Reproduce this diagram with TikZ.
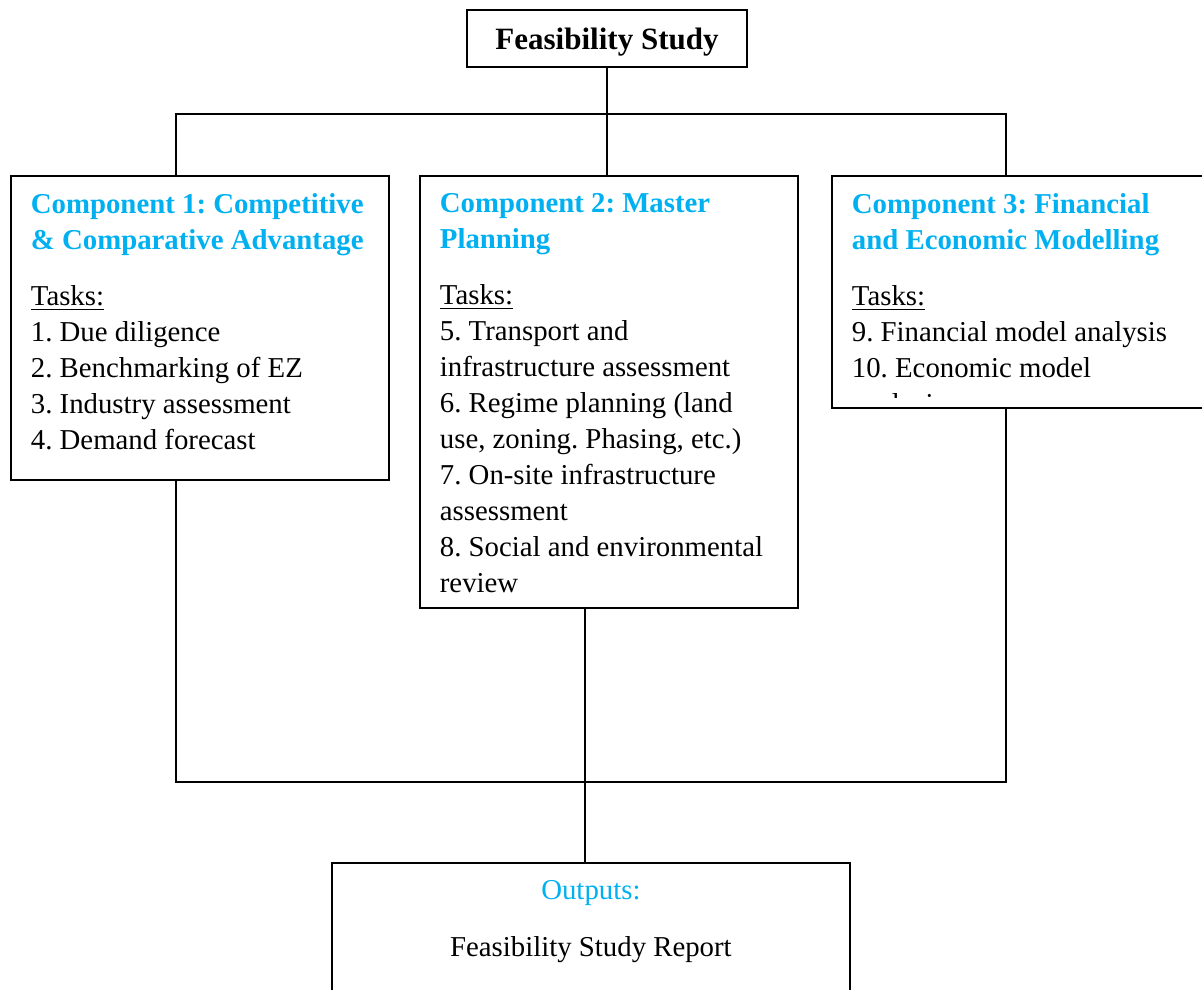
\documentclass[tikz,border=0pt]{standalone}
\usepackage{fontspec}
\setmainfont{Liberation Serif}
\usepackage{tikz}
\usetikzlibrary{positioning}
\definecolor{Cyan}{HTML}{00B0F0}
\newcommand{\taskfont}{\fontsize{14.4}{18}\selectfont\frenchspacing}
\tikzset{
  titlebox/.style={draw=black,line width=0.9pt,minimum width=140pt,minimum height=28.5pt,
              inner sep=0pt,text depth=0pt,font=\fontsize{15.5}{18}\selectfont\bfseries},
  compbox/.style={draw=black,line width=0.9pt,anchor=north west,inner xsep=10pt,
              inner ysep=9pt,font=\taskfont},
  link/.style={line width=0.6pt,draw=black}
}
\begin{document}
\begin{tikzpicture}[x=0.5pt,y=-0.5pt]
  \useasboundingbox (0,0) rectangle (1202,989);
  \node[titlebox] (study) at (607,38.5) {Feasibility Study};
  \node[compbox] (comp1) at (10,175) {\parbox[t][134pt][t]{169pt}{\raggedright
    {\color{Cyan}\bfseries Component 1: Competitive\\ \& Comparative Advantage\par}\vspace{10pt}
    \underline{Tasks:}\\ 1. Due diligence\\ 2. Benchmarking of EZ\\ 3. Industry assessment\\
    4. Demand forecast}};
  \node[compbox] (comp2) at (419,175) {\parbox[t][198pt][t]{169pt}{\raggedright
    {\color{Cyan}\bfseries Component 2: Master\\ Planning\par}\vspace{10pt}
    \underline{Tasks:}\\ 5. Transport and\\ infrastructure assessment\\
    6. Regime planning (land\\ use, zoning. Phasing, etc.)\\ 7. On-site infrastructure\\
    assessment\\ 8. Social and environmental\\ review}};
  \node[compbox,minimum width=189pt,minimum height=116pt] (comp3) at (831,175) {};
  \begin{scope}
    \clip (831,175) rectangle (1202,397);
    \node[compbox,draw=none] (comp3text) at (comp3.north west) {\parbox[t]{169pt}{\raggedright
      {\color{Cyan}\bfseries Component 3: Financial\\ and Economic Modelling\par}\vspace{10pt}
      \underline{Tasks:}\\ 9. Financial model analysis\\ 10. Economic model\\ analysis}};
  \end{scope}
  \node[compbox] (outputs) at (331,862) {\parbox[t][60pt][t]{239pt}{\centering
    {\color{Cyan}Outputs:}\par\vspace{10.5pt}
    Feasibility Study Report}};
  \coordinate (topL) at (176,114);
  \coordinate (topR) at (1006,114);
  \coordinate (botL) at (176,782);
  \coordinate (botR) at (1006,782);
  \coordinate (botM) at (585,782);
  \draw[link] (study.south) -- (study.south |- comp2.north);
  \draw[link] (topL |- comp1.north) -- (topL) -- (topR) -- (topR |- comp3.north);
  \draw[link] (botL |- comp1.south) -- (botL) -- (botR) -- (botR |- comp3.south);
  \draw[link] (botM |- comp2.south) -- (botM |- outputs.north);
\end{tikzpicture}
\end{document}
